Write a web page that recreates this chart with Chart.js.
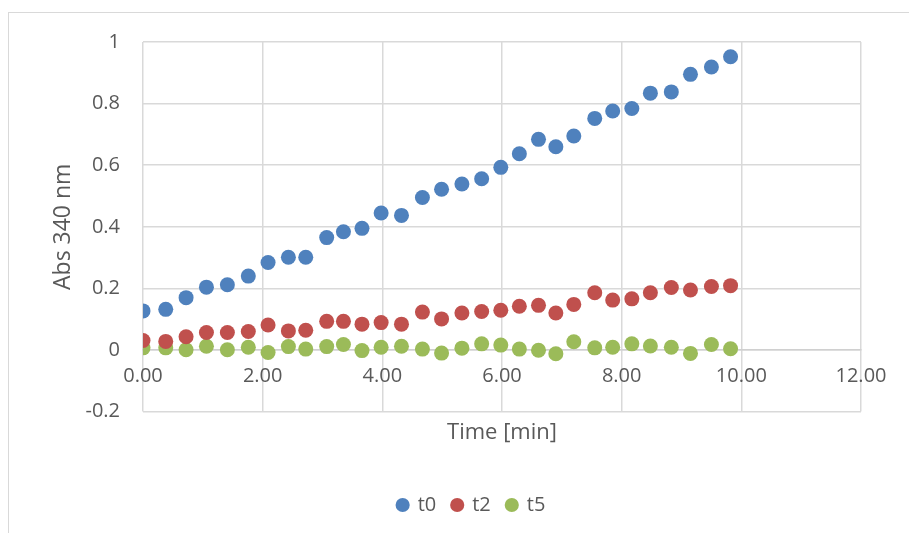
<!DOCTYPE html>
<html>
<head>
<meta charset="utf-8">
<script src="https://cdn.jsdelivr.net/npm/chart.js@4/dist/chart.umd.min.js"></script>
<style>
  html, body { margin: 0; padding: 0; background: #ffffff; }
  #wrap { position: relative; width: 909px; height: 533px; overflow: hidden; }
  #frame { position: absolute; left: 8px; top: 12px; width: 1000px; height: 600px; border: 1px solid #D9D9D9; }
  canvas { position: absolute; left: 0; top: 0; }
</style>
</head>
<body>
<div id="wrap">
  <div id="frame"></div>
  <canvas id="c" width="909" height="533"></canvas>
</div>
<script>
const timeMin = [0.00, 0.38, 0.72, 1.06, 1.41, 1.76, 2.09, 2.43, 2.72, 3.07, 3.35, 3.66, 3.98, 4.32, 4.67, 4.99, 5.33, 5.66, 5.98, 6.29, 6.61, 6.90, 7.20, 7.55, 7.85, 8.17, 8.48, 8.83, 9.15, 9.50, 9.82];
const t0 = [0.127, 0.132, 0.170, 0.204, 0.212, 0.240, 0.284, 0.301, 0.301, 0.365, 0.384, 0.395, 0.445, 0.437, 0.495, 0.522, 0.539, 0.556, 0.593, 0.637, 0.684, 0.660, 0.695, 0.752, 0.776, 0.784, 0.834, 0.838, 0.895, 0.919, 0.952];
const t2 = [0.031, 0.028, 0.043, 0.057, 0.057, 0.060, 0.081, 0.062, 0.064, 0.093, 0.093, 0.084, 0.089, 0.084, 0.123, 0.101, 0.120, 0.125, 0.129, 0.142, 0.145, 0.120, 0.148, 0.186, 0.162, 0.166, 0.186, 0.203, 0.195, 0.206, 0.209];
const t5 = [0.007, 0.007, 0.001, 0.012, 0.001, 0.009, -0.008, 0.011, 0.003, 0.011, 0.018, -0.002, 0.009, 0.012, 0.003, -0.010, 0.006, 0.020, 0.016, 0.003, -0.001, -0.012, 0.027, 0.007, 0.009, 0.020, 0.013, 0.009, -0.011, 0.018, 0.004];
const seriesNames = ['t0', 't2', 't5'];
const seriesColors = ['#4F81BD', '#C0504D', '#9BBB59'];
const xTicks = [0, 2, 4, 6, 8, 10, 12];
const yTicks = [-0.2, 0, 0.2, 0.4, 0.6, 0.8, 1];

const toPoints = (ys) => timeMin.map((x, i) => ({ x: x, y: ys[i] }));
const allSeries = [t0, t2, t5];

const FONT = "'Open Sans', 'Liberation Sans', sans-serif";
const TXT = '#595959';
const GRID = '#D9D9D9';

new Chart(document.getElementById('c'), {
  type: 'scatter',
  data: {
    datasets: allSeries.map((s, i) => ({
      label: seriesNames[i],
      data: toPoints(s),
      backgroundColor: seriesColors[i],
      borderColor: seriesColors[i],
      borderWidth: 0,
      pointRadius: 7.5,
      pointHoverRadius: 7.5,
      showLine: false
    }))
  },
  options: {
    responsive: false,
    animation: false,
    layout: { padding: { left: 82, right: 48, top: 42, bottom: 8 } },
    plugins: {
      tooltip: { enabled: false },
      legend: {
        position: 'bottom',
        labels: {
          usePointStyle: true,
          pointStyle: 'circle',
          boxWidth: 10,
          boxHeight: 10,
          padding: 16,
          color: TXT,
          font: { family: FONT, size: 20 }
        }
      }
    },
    scales: {
      x: {
        type: 'linear',
        position: { y: 0 },
        min: 0, max: 12,
        afterBuildTicks: (sc) => { sc.ticks = xTicks.map(v => ({ value: v })); },
        ticks: {
          padding: 14,
          color: TXT,
          font: { family: FONT, size: 20 },
          maxRotation: 0,
          callback: (v) => Number(v).toFixed(2)
        },
        grid: { color: GRID, lineWidth: 1.5, drawTicks: false },
        border: { display: true, color: '#D0D0D0', width: 1.5 }
      },
      xb: {
        type: 'linear',
        position: 'bottom',
        axis: 'x',
        min: 0, max: 12,
        ticks: { display: false },
        grid: { display: false, drawTicks: false },
        border: { display: false },
        title: {
          display: true,
          text: 'Time [min]',
          color: TXT,
          font: { family: FONT, size: 22 },
          padding: { top: 8, bottom: 33 }
        }
      },
      y: {
        type: 'linear',
        min: -0.2, max: 1,
        afterBuildTicks: (sc) => { sc.ticks = yTicks.map(v => ({ value: v })); },
        afterFit: (sc) => { sc.width = 61; },
        ticks: {
          padding: 23,
          color: TXT,
          font: { family: FONT, size: 20 },
          callback: (v) => String(Number(Number(v).toFixed(1)))
        },
        grid: { color: GRID, lineWidth: 1.5, drawTicks: false },
        border: { display: false },
        title: {
          display: true,
          text: 'Abs 340 nm',
          color: TXT,
          font: { family: FONT, size: 23 },
          padding: { top: -32, bottom: 0 }
        }
      }
    }
  }
});
</script>
</body>
</html>
